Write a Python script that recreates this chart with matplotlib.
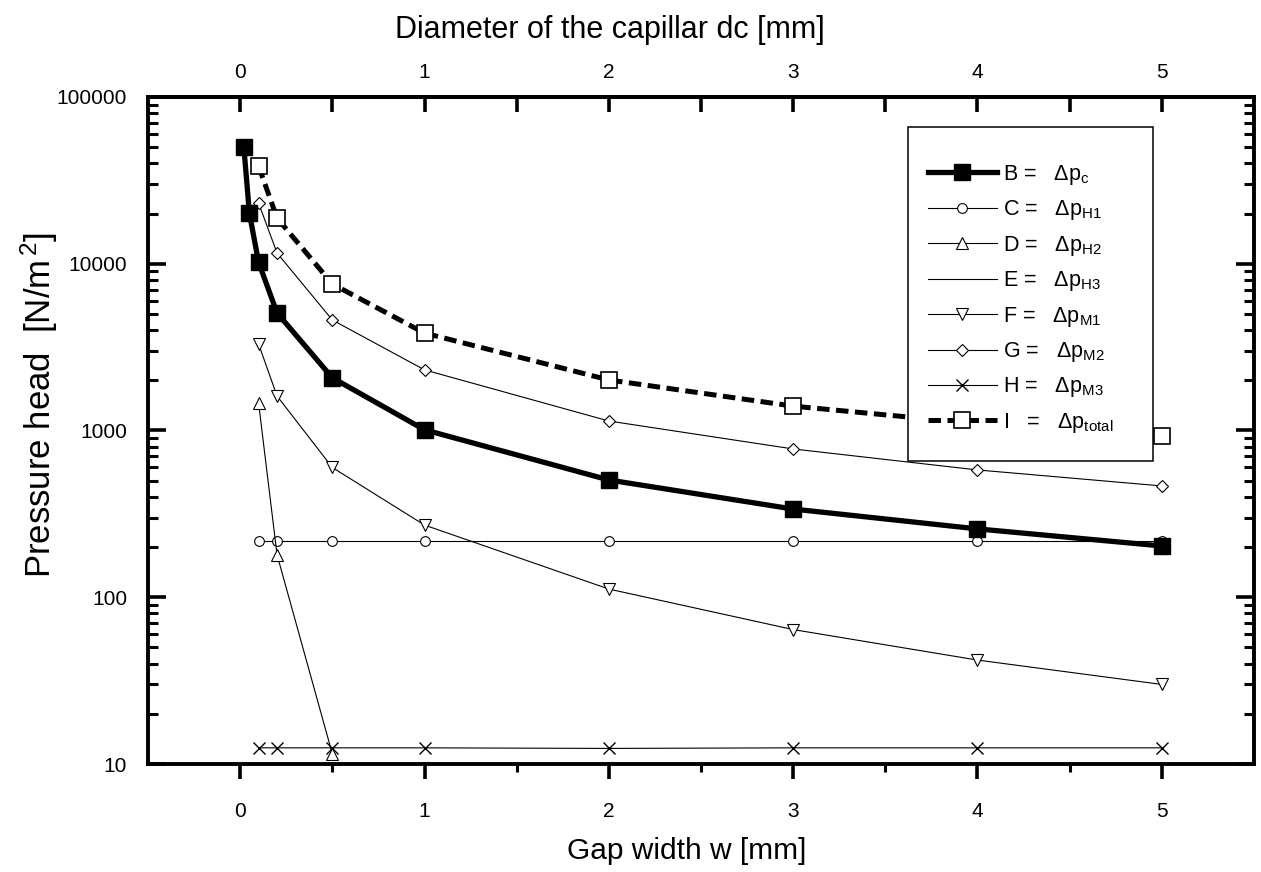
import matplotlib
matplotlib.use("Agg")
import matplotlib.pyplot as plt
from matplotlib.ticker import FixedLocator, FixedFormatter, LogLocator, NullFormatter
from matplotlib.patches import Rectangle

plt.rcParams['font.family'] = ['Liberation Sans', 'DejaVu Sans']
plt.rcParams['mathtext.fontset'] = 'custom'
plt.rcParams['mathtext.rm'] = 'Liberation Sans'
plt.rcParams['mathtext.it'] = 'Liberation Sans:italic'

# ---- data ----
b_x = [0.02, 0.05, 0.1, 0.2, 0.5, 1, 2, 3, 4, 5]
b_y = [50100, 20100, 10200, 5070, 2070, 1010, 505, 338, 257, 203]

c_x = [0.1, 0.2, 0.5, 1, 2, 3, 4, 5]
c_y = [216, 216, 216, 216, 216, 216, 216, 216]

d_x = [0.1, 0.2, 0.5]
d_y = [1460, 180, 11.5]

e_x = []
e_y = []

f_x = [0.1, 0.2, 0.5, 1, 2, 3, 4, 5]
f_y = [3300, 1610, 600, 271, 112, 64, 42, 30]

g_x = [0.1, 0.2, 0.5, 1, 2, 3, 4, 5]
g_y = [23100, 11600, 4600, 2310, 1140, 775, 580, 465]

h_x = [0.1, 0.2, 0.5, 1, 2, 3, 4, 5]
h_y = [12.5, 12.5, 12.5, 12.5, 12.4, 12.5, 12.5, 12.5]

i_x = [0.1, 0.2, 0.5, 1, 2, 3, 4, 5]
i_y = [38500, 18800, 7560, 3840, 2010, 1400, 1100, 927]

series_labels = ['B =   Δp$_{\\mathrm{c}}$',
                 'C =   Δp$_{\\mathrm{H1}}$',
                 'D =   Δp$_{\\mathrm{H2}}$',
                 'E =   Δp$_{\\mathrm{H3}}$',
                 'F =   Δp$_{\\mathrm{M1}}$',
                 'G =   Δp$_{\\mathrm{M2}}$',
                 'H =   Δp$_{\\mathrm{M3}}$',
                 'I   =   Δp$_{\\mathrm{total}}$']

x_major = [0, 1, 2, 3, 4, 5]
x_major_labels = ['0', '1', '2', '3', '4', '5']
x_minor = [0.5, 1.5, 2.5, 3.5, 4.5]
y_major = [10, 100, 1000, 10000, 100000]
y_major_labels = ['10', '100', '1000', '10000', '100000']

W, H = 1261, 872
fig = plt.figure(figsize=(W / 100, H / 100), dpi=100)
L, R, T, B = 148, 1254, 97, 764
ax = fig.add_axes([L / W, 1 - B / H, (R - L) / W, (B - T) / H])

thin = 0.8
ax.plot(c_x, c_y, '-', color='black', lw=thin, marker='o', ms=7, mfc='white', mec='black', mew=0.8, zorder=2, label=series_labels[1])
ax.plot(d_x, d_y, '-', color='black', lw=thin, marker='^', ms=8, mfc='white', mec='black', mew=0.8, zorder=2, label=series_labels[2])
ax.plot(e_x, e_y, '-', color='black', lw=thin, zorder=2, label=series_labels[3])
ax.plot(f_x, f_y, '-', color='black', lw=thin, marker='v', ms=8, mfc='white', mec='black', mew=0.8, zorder=2, label=series_labels[4])
ax.plot(g_x, g_y, '-', color='black', lw=thin, marker='D', ms=6, mfc='white', mec='black', mew=0.8, zorder=2, label=series_labels[5])
ax.plot(h_x, h_y, '-', color='black', lw=thin, marker='x', ms=8, mec='black', mew=1.0, zorder=2, label=series_labels[6])
ax.plot(i_x, i_y, color='black', lw=3.6, dashes=(2.5, 1.3), marker='s', ms=11, mfc='white', mec='black', mew=1.2, zorder=3, label=series_labels[7])
ax.plot(b_x, b_y, '-', color='black', lw=3.8, marker='s', ms=11, mfc='black', mec='black', zorder=3, label=series_labels[0])

ax.set_yscale('log')
ax.set_xlim(-0.5, 5.5)
ax.set_ylim(10, 100000)

# y axis ticks
ax.yaxis.set_major_locator(FixedLocator(y_major))
ax.yaxis.set_major_formatter(FixedFormatter(y_major_labels))
ax.yaxis.set_minor_locator(LogLocator(base=10, subs=[2, 3, 4, 5, 6, 7, 8, 9]))
ax.yaxis.set_minor_formatter(NullFormatter())
ax.tick_params(axis='y', which='both', direction='in', left=True, right=True, labelsize=15, pad=15)
ax.tick_params(axis='y', which='major', length=13, width=2.6)
ax.tick_params(axis='y', which='minor', length=7, width=2.2)

# bottom x axis
ax.xaxis.set_major_locator(FixedLocator(x_major))
ax.xaxis.set_major_formatter(FixedFormatter(x_major_labels))
ax.xaxis.set_minor_locator(FixedLocator(x_minor))
ax.tick_params(axis='x', which='both', direction='out', top=False, labelsize=15, pad=16)
ax.tick_params(axis='x', which='major', length=11, width=2.6)
ax.tick_params(axis='x', which='minor', length=6, width=2.2)

# top x axis
sec = ax.secondary_xaxis('top')
sec.xaxis.set_major_locator(FixedLocator(x_major))
sec.xaxis.set_major_formatter(FixedFormatter(x_major_labels))
sec.xaxis.set_minor_locator(FixedLocator(x_minor))
sec.tick_params(axis='x', which='both', direction='in', labelsize=15, pad=11, length=11, width=2.6)
sec.spines['top'].set_linewidth(2.8)

for s in ax.spines.values():
    s.set_linewidth(2.8)

ax.set_xlabel('Gap width w [mm]', fontsize=21.5)
ax.xaxis.set_label_coords((687 - L) / (R - L), (B - 837) / (B - T))
ax.set_ylabel('Pressure head  [N/m$^{\\,2}$]', fontsize=25)
ax.yaxis.set_label_coords((60 - L) / (R - L), (B - 405) / (B - T))
fig.text(610 / W, 1 - 30 / H, 'Diameter of the capillar dc [mm]', fontsize=22, ha='center', va='center')

# legend box
ax.add_patch(Rectangle(((908 - L) / (R - L), (B - 461) / (B - T)),
                       (1153 - 908) / (R - L), (461 - 127) / (B - T),
                       transform=ax.transAxes, facecolor='white', edgecolor='black',
                       lw=1.1, zorder=4, clip_on=False))
handles, labels = ax.get_legend_handles_labels()
order = [7, 0, 1, 2, 3, 4, 5, 6]
leg = ax.legend([handles[k] for k in order], [labels[k] for k in order],
                loc='upper left', bbox_to_anchor=((928 - L) / (R - L), (B - 163) / (B - T)),
                frameon=False, fontsize=15.5, numpoints=1, handlelength=3.2,
                handletextpad=0.3, labelspacing=0.53, borderpad=0, borderaxespad=0)
leg.set_zorder(5)

fig.savefig('out.png', dpi=100)
